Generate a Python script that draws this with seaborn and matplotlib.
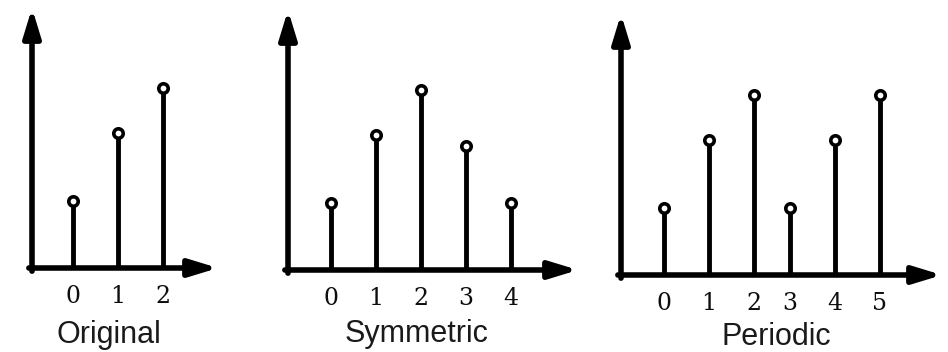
import matplotlib
matplotlib.use("Agg")
import matplotlib.pyplot as plt
import seaborn as sns

# Sample sequences: the original signal and its two extensions
titles = ["Original", "Symmetric", "Periodic"]

orig_pos = [0, 1, 2]
orig_val = [1.5, 3.0, 4.0]
orig_ticks = ["0", "1", "2"]

sym_pos = [0, 1, 2, 3, 4]
sym_val = [1.5, 3.0, 4.0, 2.75, 1.5]
sym_ticks = ["0", "1", "2", "3", "4"]

per_pos = [0, 1, 2, 2.8, 3.8, 4.8]
per_val = [1.5, 3.0, 4.0, 1.5, 3.0, 4.0]
per_ticks = ["0", "1", "2", "3", "4", "5"]

panels = [
    (orig_pos, orig_val, orig_ticks),
    (sym_pos, sym_val, sym_ticks),
    (per_pos, per_val, per_ticks),
]

# Pixel layout of each panel: y-axis x, x-axis y, first stem x, x-arrow end, y-arrow top,
# caption centre (data x) and caption baseline (data y)
layout = [
    (32, 268, 73, 218, 8, 0.80, -1.66),
    (288, 270, 331, 578, 10, 1.91, -1.59),
    (621, 275, 664, 942, 14, 2.49, -1.56),
]

W, H = 948, 352
PX = 45.0  # pixels per unit on both axes

sns.set_theme(style="white")
plt.rcParams["font.family"] = ["Liberation Sans", "DejaVu Sans"]

fig = plt.figure(figsize=(W / 100, H / 100), dpi=100)
fig.patch.set_facecolor("white")

arrow_style = "-|>,head_length=0.85,head_width=0.26"

for (pos, val, ticks), title, (x0, y0, s0, xe, yt, tx, ty) in zip(panels, titles, layout):
    ax = fig.add_axes([x0 / W, (H - y0) / H, (xe - x0) / W, (y0 - yt) / H])
    left = (s0 - x0) / PX
    right = (xe - s0) / PX
    top = (y0 - yt) / PX
    ax.set_xlim(-left, right)
    ax.set_ylim(0, top)
    ax.patch.set_alpha(0)
    sns.despine(ax=ax, left=True, bottom=True)

    # axes drawn as arrows
    arrowprops = dict(arrowstyle=arrow_style, mutation_scale=20, lw=4.0,
                      color="black", shrinkA=0, shrinkB=0)
    ax.annotate("", xy=(right, 0), xytext=(-left - 0.07, 0),
                arrowprops=arrowprops, annotation_clip=False)
    ax.annotate("", xy=(-left, top), xytext=(-left, -0.07),
                arrowprops=arrowprops, annotation_clip=False)

    # stems and hollow circle heads
    ax.vlines(pos, 0, val, colors="black", lw=3.5, zorder=2)
    sns.scatterplot(x=pos, y=val, ax=ax, marker="o", s=46, color="white",
                    edgecolor="black", linewidth=2.6, zorder=3, clip_on=False,
                    legend=False)

    ax.set_xticks(pos, labels=ticks)
    ax.set_yticks([])
    ax.tick_params(axis="x", length=0, pad=12, labelsize=17, labelcolor="#0d0d0d")
    for lab in ax.get_xticklabels():
        lab.set_fontfamily("DejaVu Serif")
    ax.set_xlabel("")
    ax.set_ylabel("")

    ax.text(tx, ty, title, ha="center", va="baseline", fontsize=22,
            color="#1a1a1a", clip_on=False)

fig.savefig("out.png", dpi=100, facecolor="white")
